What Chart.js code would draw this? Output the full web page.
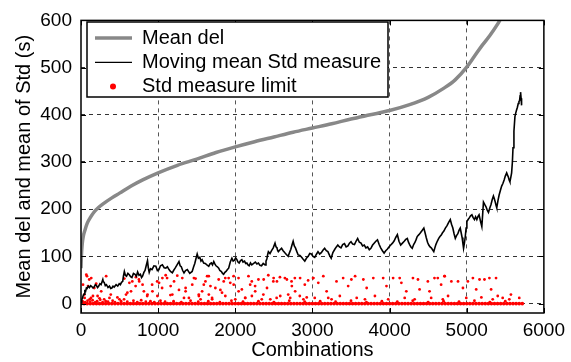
<!DOCTYPE html>
<html>
<head>
<meta charset="utf-8">
<script src="https://cdn.jsdelivr.net/npm/chart.js@4.4.1/dist/chart.umd.min.js"></script>
<style>
  html, body { margin: 0; padding: 0; background: #fff; }
</style>
</head>
<body>
<canvas id="myChart" width="571" height="362"></canvas>
<script>
// axis ticks
var xTicks = [0, 1000, 2000, 3000, 4000, 5000, 6000];
var yTicks = [0, 100, 200, 300, 400, 500, 600];

// Mean del (grey)
var meanDelX = [0, 5, 15, 30, 50, 80, 120, 170, 230, 300, 400, 500, 650, 800, 1000, 1250, 1500, 1750, 2000, 2250, 2500, 2750, 3000, 3250, 3500, 3750, 4000, 4250, 4500, 4700, 4850, 5000, 5100, 5200, 5300, 5400, 5450, 5500];
var meanDelY = [75, 100, 125, 143, 155, 170, 182, 194, 204, 213, 224, 234, 249, 262, 277, 293, 306, 320, 332, 343, 353, 363, 372, 381, 391, 400, 409, 421, 437, 456, 474, 501, 524, 547, 568, 592, 606, 618];

// Moving mean Std measure (black)
var movX = [0, 10, 20, 30, 40, 50, 60, 70, 80, 95, 110, 125, 140, 155, 170, 185, 200, 215, 230, 245, 260, 283, 290, 300, 315, 330, 350, 369, 385, 400, 415, 430, 455, 476, 495, 510, 525, 541, 550, 562, 575, 590, 608, 626, 643, 660, 680, 700, 718, 734, 752, 770, 785, 798, 815, 830, 845, 862, 873, 884, 900, 920, 945, 970, 990, 1010, 1030, 1055, 1078, 1100, 1120, 1141, 1160, 1184, 1200, 1220, 1245, 1270, 1285, 1300, 1318, 1335, 1355, 1378, 1410, 1441, 1460, 1475, 1490, 1506, 1522, 1540, 1555, 1570, 1590, 1610, 1632, 1656, 1672, 1690, 1705, 1721, 1735, 1750, 1768, 1785, 1800, 1820, 1835, 1849, 1865, 1880, 1898, 1914, 1935, 1956, 1972, 1990, 2005, 2021, 2035, 2050, 2068, 2085, 2100, 2120, 2135, 2150, 2165, 2180, 2197, 2214, 2238, 2260, 2280, 2300, 2320, 2340, 2362, 2386, 2398, 2410, 2420, 2429, 2450, 2470, 2492, 2515, 2528, 2540, 2550, 2558, 2580, 2600, 2620, 2640, 2662, 2686, 2703, 2720, 2735, 2750, 2765, 2780, 2798, 2815, 2838, 2860, 2880, 2901, 2922, 2945, 2965, 2986, 3008, 3030, 3050, 3072, 3093, 3115, 3136, 3158, 3180, 3200, 3222, 3243, 3265, 3290, 3310, 3329, 3350, 3370, 3392, 3415, 3437, 3460, 3480, 3500, 3522, 3545, 3565, 3586, 3608, 3630, 3650, 3672, 3693, 3715, 3737, 3758, 3780, 3800, 3822, 3843, 3865, 3885, 3907, 3929, 3950, 3970, 3992, 4015, 4038, 4060, 4080, 4101, 4122, 4144, 4167, 4190, 4210, 4230, 4245, 4260, 4277, 4294, 4312, 4330, 4345, 4358, 4380, 4400, 4422, 4444, 4460, 4475, 4492, 4508, 4525, 4540, 4557, 4573, 4587, 4600, 4618, 4637, 4653, 4670, 4686, 4702, 4723, 4745, 4766, 4787, 4803, 4820, 4836, 4852, 4868, 4885, 4900, 4916, 4928, 4940, 4950, 4959, 4970, 4980, 4992, 5002, 5018, 5035, 5050, 5067, 5083, 5100, 5115, 5131, 5145, 5160, 5178, 5196, 5207, 5217, 5233, 5250, 5266, 5282, 5298, 5315, 5330, 5346, 5358, 5370, 5380, 5389, 5405, 5420, 5437, 5453, 5470, 5485, 5500, 5518, 5530, 5540, 5550, 5560, 5572, 5582, 5592, 5600, 5612, 5625, 5636, 5646, 5657, 5668, 5677, 5685, 5692, 5698, 5705, 5711];
var movY = [2, 8, 12, 18, 20, 27, 26, 33, 32, 37, 34, 38, 36, 33, 35, 40, 38, 34, 37, 42, 40, 51, 46, 45, 38, 40, 34, 37, 32, 33, 37, 35, 40, 37, 42, 40, 45, 47, 58, 68, 60, 58, 64, 61, 57, 55, 64, 62, 58, 67, 60, 62, 55, 58, 66, 70, 80, 91, 75, 66, 74, 72, 80, 79, 70, 72, 80, 82, 76, 75, 78, 72, 68, 65, 70, 75, 82, 89, 80, 78, 70, 65, 70, 72, 64, 68, 78, 85, 95, 105, 96, 98, 90, 93, 86, 85, 82, 79, 84, 86, 82, 89, 84, 80, 78, 75, 70, 68, 64, 62, 66, 68, 72, 75, 88, 96, 90, 92, 97, 93, 88, 86, 91, 93, 88, 90, 85, 86, 82, 80, 86, 82, 85, 88, 84, 86, 81, 80, 85, 82, 90, 95, 104, 110, 106, 112, 118, 128, 120, 118, 112, 110, 114, 117, 112, 108, 104, 100, 108, 115, 124, 132, 122, 118, 110, 103, 102, 98, 94, 90, 96, 100, 106, 105, 100, 98, 104, 110, 105, 108, 113, 117, 112, 110, 102, 96, 108, 115, 120, 124, 120, 118, 125, 127, 120, 122, 128, 131, 126, 125, 132, 138, 130, 128, 122, 124, 118, 120, 114, 117, 124, 128, 132, 135, 125, 118, 112, 107, 112, 115, 120, 124, 128, 133, 140, 146, 132, 124, 128, 132, 136, 138, 130, 125, 120, 117, 125, 130, 136, 142, 146, 150, 155, 160, 150, 140, 130, 124, 120, 118, 114, 110, 118, 125, 132, 138, 142, 145, 150, 153, 160, 165, 172, 178, 168, 160, 148, 138, 144, 148, 155, 160, 150, 140, 128, 117, 128, 140, 160, 174, 178, 182, 186, 188, 182, 178, 184, 178, 184, 188, 175, 163, 190, 215, 210, 205, 198, 193, 202, 210, 220, 228, 222, 215, 208, 203, 218, 230, 240, 249, 255, 262, 270, 277, 272, 268, 262, 258, 268, 277, 300, 330, 365, 396, 404, 410, 416, 424, 428, 430, 440, 448, 435, 420];

// Std measure limit (red dots), non-zero values
var limitX = [69, 133, 26, 91, 197, 326, 262, 155, 47, 112, 240, 369, 498, 584, 648, 712, 755, 798, 627, 562, 862, 926, 990, 1012, 1055, 78, 107, 172, 43, 129, 215, 300, 386, 472, 558, 601, 665, 708, 751, 815, 858, 922, 987, 1051, 1116, 1159,
  20, 55, 85, 120, 150, 185, 210, 250, 280, 320, 350, 410, 440, 520, 600, 680, 730, 780, 840, 900, 950, 1030, 1090, 1200, 1300, 1420, 1520, 1650, 1800, 1950, 2100, 2300, 2500, 2700, 2900, 3100, 3300, 3500, 3700, 3900, 4100, 4300, 4500, 4700, 4900, 5100, 5300, 5500,
  1098, 1162, 1184, 1248, 1313, 1356, 1399, 1442, 1485, 1527, 1570, 1613, 1656, 1699, 1742, 1785, 1828, 1870, 1935, 1978, 2042, 2085, 2128, 2171, 2214, 2257, 2300, 2364, 2428, 2493, 2536, 2579, 2643, 2686, 2729, 2772, 2836, 2901, 2944, 3008, 3030,
  1206, 1270, 1335, 1464, 1592, 1635, 1657, 1678, 1700, 1807, 1850, 1914, 1979, 2043, 2129, 2193, 2258, 2343, 1356, 1528, 1871, 2000, 2215, 1550,
  2368, 2411, 2497, 2540, 2669, 2733, 2776, 2840, 2883, 3012, 3076, 3141, 3184, 3248, 3312, 3398, 3463, 3505, 2454, 2583, 2712, 2926, 3205, 3355,
  3553, 3660, 3703, 3789, 3917, 3960, 4046, 4131, 4153, 4217, 4303, 4368, 4389, 4496, 4518, 4582, 4625, 4668, 4711, 3574, 3681, 3810, 3982, 4196, 4325, 4539, 4690,
  4715, 4801, 4887, 4951, 5015, 5080, 5123, 5166, 5230, 5294, 5316, 5380, 5402, 5466, 5552, 5573, 5681, 4758, 4994, 5190, 5337];
var limitY = [61, 54, 40, 37, 42, 58, 26, 16, 12, 9, 11, 12, 9, 19, 26, 56, 47, 40, 44, 53, 19, 26, 16, 44, 54, 58, 51, 33, 19, 12, 16, 9, 19, 13, 9, 23, 47, 37, 51, 26, 16, 40, 47, 33, 54, 18,
  5, 3, 6, 4, 7, 3, 5, 8, 3, 5, 4, 6, 3, 5, 4, 6, 3, 7, 4, 5, 3, 6, 4, 5, 3, 6, 4, 5, 3, 6, 4, 5, 3, 6, 4, 5, 4, 6, 3, 5, 4, 6, 3, 5, 4, 6, 3, 5,
  60, 37, 19, 59, 54, 33, 12, 40, 53, 19, 26, 47, 58, 12, 33, 51, 23, 54, 44, 58, 54, 30, 12, 58, 47, 37, 51, 19, 60, 47, 12, 56, 54, 19, 47, 54, 16, 40, 49, 54, 12,
  47, 29, 12, 54, 40, 58, 19, 37, 9, 29, 47, 54, 40, 26, 12, 40, 26, 9, 26, 16, 16, 9, 16, 9,
  51, 33, 54, 47, 51, 37, 26, 54, 9, 54, 44, 58, 26, 9, 47, 54, 37, 51, 9, 16, 12, 13, 12, 16,
  58, 51, 33, 54, 54, 37, 54, 54, 44, 26, 54, 51, 30, 47, 26, 54, 54, 40, 58, 12, 9, 16, 9, 12, 9, 12, 9,
  58, 47, 47, 33, 47, 54, 30, 51, 51, 54, 30, 54, 16, 12, 9, 19, 12, 16, 12, 13, 9];

// Std measure limit, combinations where the value is zero
var zeroX = [0, 40, 80, 120, 160, 200, 240, 280, 320, 360, 400, 440, 480, 520, 560, 600, 640, 680, 720, 760, 800, 840, 880, 920, 960, 1000, 1040, 1080, 1120, 1160, 1200, 1240, 1280, 1320, 1360, 1400, 1440, 1480, 1520, 1560, 1600, 1640, 1680, 1720, 1760, 1800, 1840, 1880, 1920, 1960, 2000, 2040, 2080, 2120, 2160, 2200, 2240, 2280, 2320, 2360, 2400, 2440, 2480, 2520, 2560, 2600, 2640, 2680, 2720, 2760, 2800, 2840, 2880, 2920, 2960, 3000, 3040, 3080, 3120, 3160, 3200, 3240, 3280, 3320, 3360, 3400, 3440, 3480, 3520, 3560, 3600, 3640, 3680, 3720, 3760, 3800, 3840, 3880, 3920, 3960, 4000, 4040, 4080, 4120, 4160, 4200, 4240, 4280, 4320, 4360, 4400, 4440, 4480, 4520, 4560, 4600, 4640, 4680, 4720, 4760, 4800, 4840, 4880, 4920, 4960, 5000, 5040, 5080, 5120, 5160, 5200, 5240, 5280, 5320, 5360, 5400, 5440, 5480, 5520, 5560, 5600, 5640, 5680, 5720];

var FONT = '"Liberation Sans", Arial, Helvetica, sans-serif';

function pairs(xs, ys) {
  return xs.map(function (x, i) { return { x: x, y: ys[i] }; });
}

var limitData = pairs(limitX, limitY).concat(zeroX.map(function (x) { return { x: x, y: 0 }; }));

// frame, inward tick marks and the legend inside the plot
var frameAndLegend = {
  id: 'frameAndLegend',
  afterDraw: function (chart) {
    var ctx = chart.ctx, a = chart.chartArea;
    var xs = chart.scales.x, ys = chart.scales.y;
    ctx.save();
    ctx.strokeStyle = '#000';
    ctx.lineWidth = 1.5;
    ctx.strokeRect(a.left, a.top, a.right - a.left, a.bottom - a.top);
    ctx.lineWidth = 1;
    ctx.beginPath();
    xTicks.forEach(function (v) {
      var p = Math.round(xs.getPixelForValue(v)) + 0.5;
      ctx.moveTo(p, a.bottom); ctx.lineTo(p, a.bottom - 5);
      ctx.moveTo(p, a.top); ctx.lineTo(p, a.top + 5);
    });
    yTicks.forEach(function (v) {
      var p = Math.round(ys.getPixelForValue(v)) + 0.5;
      ctx.moveTo(a.left, p); ctx.lineTo(a.left + 5, p);
      ctx.moveTo(a.right, p); ctx.lineTo(a.right - 5, p);
    });
    ctx.stroke();

    // legend box
    ctx.fillStyle = '#fff';
    ctx.fillRect(87, 22, 301, 75);
    ctx.lineWidth = 1.5;
    ctx.strokeRect(87, 22, 301, 75);
    ctx.font = '20px ' + FONT;
    ctx.textBaseline = 'middle';
    chart.data.datasets.forEach(function (ds, i) {
      var y = 38 + i * 24.3;
      if (ds.showLine === false) {
        ctx.fillStyle = ds.backgroundColor;
        ctx.beginPath();
        ctx.arc(113, y, 3, 0, Math.PI * 2);
        ctx.fill();
      } else {
        ctx.strokeStyle = ds.borderColor;
        ctx.lineWidth = ds.legendWidth || ds.borderWidth;
        ctx.beginPath();
        ctx.moveTo(95, y); ctx.lineTo(132, y);
        ctx.stroke();
      }
      ctx.fillStyle = '#000';
      ctx.fillText(ds.label, 142, y);
    });
    ctx.restore();
  }
};

var ctx = document.getElementById('myChart').getContext('2d');
var myChart = new Chart(ctx, {
  type: 'line',
  data: {
    datasets: [{
      label: 'Mean del',
      data: pairs(meanDelX, meanDelY),
      borderColor: '#888888',
      borderWidth: 3.5,
      pointRadius: 0,
      cubicInterpolationMode: 'monotone',
      fill: false,
      order: 1
    }, {
      label: 'Moving mean Std measure',
      data: pairs(movX, movY),
      borderColor: '#000000',
      borderWidth: 1.6,
      legendWidth: 1.2,
      pointRadius: 0,
      tension: 0,
      fill: false,
      order: 2
    }, {
      label: 'Std measure limit',
      data: limitData,
      showLine: false,
      backgroundColor: '#ff0000',
      borderWidth: 0,
      pointRadius: function (c) { return (c.raw && c.raw.y === 0) ? 1.9 : 1.4; },
      order: 3
    }]
  },
  plugins: [frameAndLegend],
  options: {
    responsive: false,
    animation: false,
    devicePixelRatio: 1,
    layout: { padding: { top: 16, right: 23, left: 0, bottom: 0 } },
    scales: {
      x: {
        type: 'linear',
        min: 0,
        max: 6000,
        afterBuildTicks: function (s) { s.ticks = xTicks.map(function (v) { return { value: v }; }); },
        afterFit: function (s) { s.height = 49; },
        ticks: {
          color: '#000', font: { family: FONT, size: 19 }, padding: 6, maxRotation: 0, autoSkip: false,
          callback: function (v) { return String(v); }
        },
        grid: {
          drawTicks: false,
          lineWidth: 1,
          color: function (c) { return (c.tick && (c.tick.value === 0 || c.tick.value === 6000)) ? 'rgba(0,0,0,0)' : '#555'; }
        },
        border: { display: false, dash: [4, 4] },
        title: { display: true, text: 'Combinations', color: '#000', font: { family: FONT, size: 20 }, padding: { top: 0, bottom: 0 } }
      },
      y: {
        min: -20,
        max: 600,
        afterBuildTicks: function (s) { s.ticks = yTicks.map(function (v) { return { value: v }; }); },
        afterFit: function (s) { s.width = 81; },
        ticks: { color: '#000', font: { family: FONT, size: 19 }, padding: 9 },
        grid: {
          drawTicks: false,
          lineWidth: 1,
          color: function (c) { return (c.tick && c.tick.value === 600) ? 'rgba(0,0,0,0)' : '#333'; }
        },
        border: { display: false, dash: [4, 4] },
        title: { display: true, text: 'Mean del and mean of Std (s)', color: '#000', font: { family: FONT, size: 20 }, padding: { top: 12, bottom: 0 } }
      }
    },
    plugins: {
      legend: { display: false },
      tooltip: { enabled: false }
    }
  }
});
</script>
</body>
</html>
